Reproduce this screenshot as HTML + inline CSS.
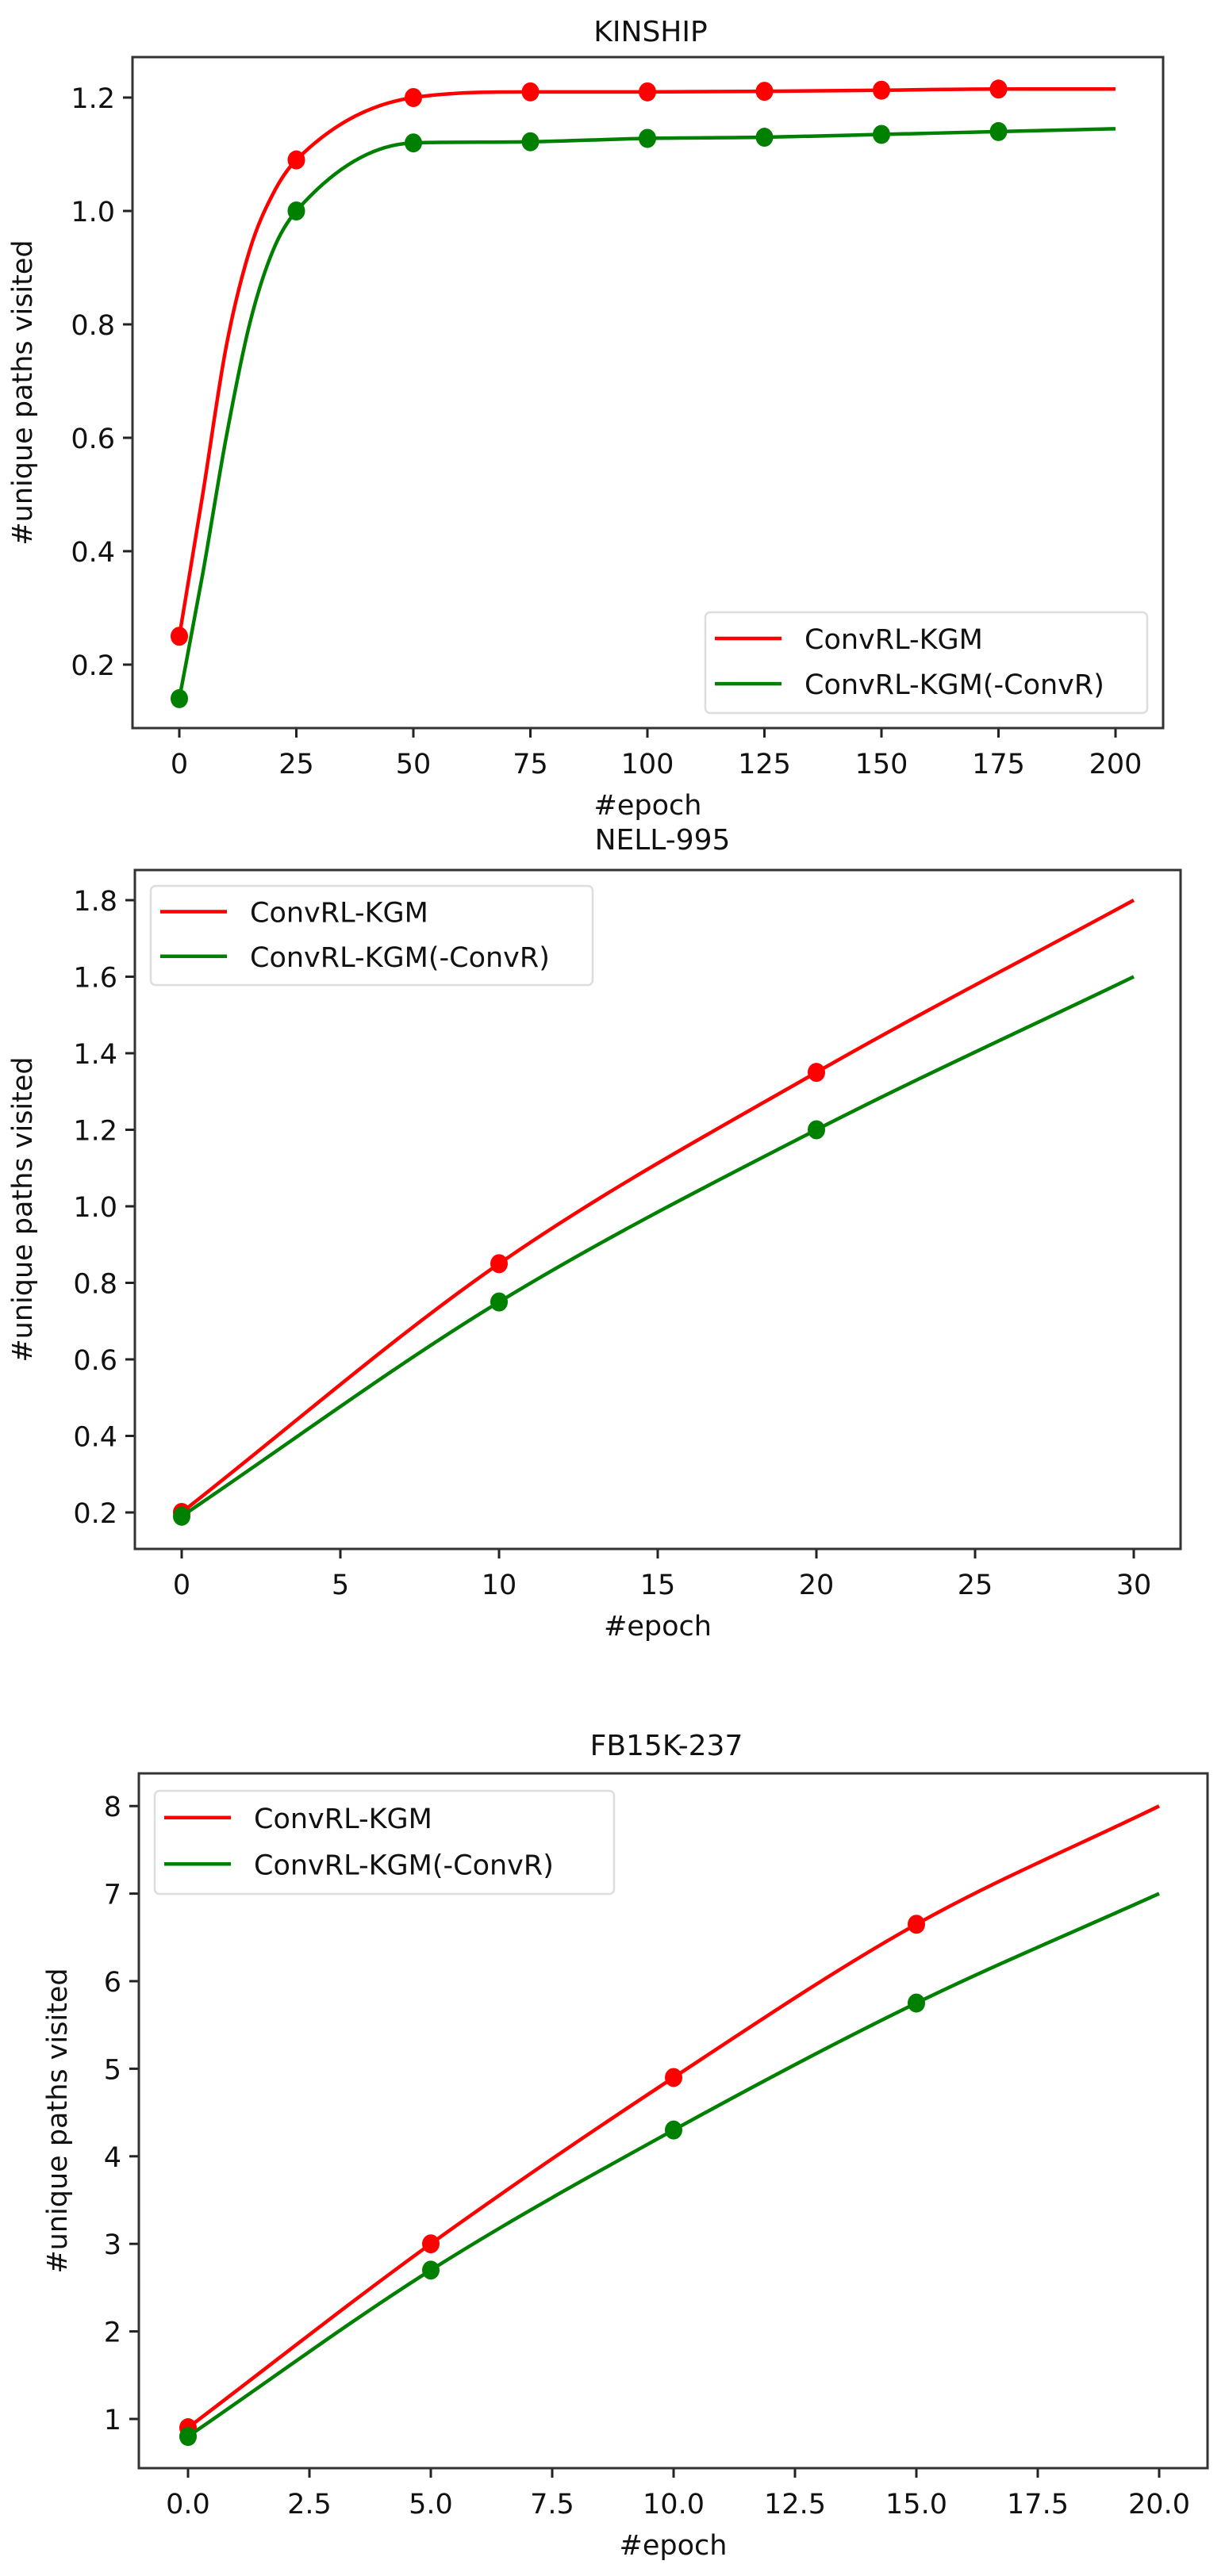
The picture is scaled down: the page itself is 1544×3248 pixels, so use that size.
<!DOCTYPE html>
<html><head><meta charset="utf-8">
<style>
html,body{margin:0;padding:0;background:#fff;}
svg{display:block;}
text{font-family:"DejaVu Sans","Liberation Sans",sans-serif;fill:#111;}
</style></head>
<body>
<svg id="s" width="1544" height="3248" viewBox="0 0 1544 3248" xmlns="http://www.w3.org/2000/svg">
<rect width="1544" height="3248" fill="#fff"/>
<g id="g"></g>
</svg>
<script>
(function(){
var NS="http://www.w3.org/2000/svg",G=document.getElementById('g');
function el(t,a,txt){var e=document.createElementNS(NS,t);for(var k in a)e.setAttribute(k,a[k]);if(txt!=null)e.textContent=txt;G.appendChild(e);return e;}
function mono(xs,ys){var n=xs.length,d=[],m=[];for(var i=0;i<n-1;i++)d.push((ys[i+1]-ys[i])/(xs[i+1]-xs[i]));
m[0]=d[0];m[n-1]=d[n-2];for(i=1;i<n-1;i++){if(d[i-1]*d[i]<=0)m[i]=0;else{var v=(d[i-1]+d[i])/2;var lim=3*Math.min(Math.abs(d[i-1]),Math.abs(d[i]));if(Math.abs(v)>lim)v=(v<0?-lim:lim);m[i]=v;}}
var p="M"+xs[0]+","+ys[0];for(i=0;i<n-1;i++){var h=xs[i+1]-xs[i];p+=" C"+(xs[i]+h/3)+","+(ys[i]+m[i]*h/3)+" "+(xs[i+1]-h/3)+","+(ys[i+1]-m[i+1]*h/3)+" "+xs[i+1]+","+ys[i+1];}return p;}
function chart(c){
 var X=function(v){return c.x0+(v-c.xv0)*c.xs;},Y=function(v){return c.y0-(v-c.yv0)*c.ys;};
 el('text',{x:c.tx,y:c.ty,'font-size':36,'text-anchor':'middle'},c.title);
 c.xt.forEach(function(t){var x=X(t);el('line',{x1:x,y1:c.B,x2:x,y2:c.B+12,stroke:'#222','stroke-width':3});
  el('text',{x:x,y:c.B+57,'font-size':35,'text-anchor':'middle'},c.xf(t));});
 c.yt.forEach(function(t){var y=Y(t);el('line',{x1:c.L-12,y1:y,x2:c.L,y2:y,stroke:'#222','stroke-width':3});
  el('text',{x:c.L-22,y:y+13,'font-size':35,'text-anchor':'end'},c.yf(t));});
 el('text',{x:(c.L+c.R)/2,y:c.B+109,'font-size':35,'text-anchor':'middle'},'#epoch');
 var yc=(c.T+c.B)/2;el('text',{x:c.ylx,y:yc,'font-size':35,'text-anchor':'middle',transform:'rotate(-90 '+c.ylx+' '+yc+')'},'#unique paths visited');
 c.series.forEach(function(s){var xs=s.x.map(X),ys=s.y.map(Y);
  el('path',{d:mono(xs,ys),fill:'none',stroke:s.col,'stroke-width':4.5});
  for(var i=0;i<xs.length;i++)if(s.mk.indexOf(s.x[i])>=0)el('ellipse',{cx:xs[i],cy:ys[i],rx:11,ry:12,fill:s.col});});
 el('rect',{x:c.L,y:c.T,width:c.R-c.L,height:c.B-c.T,fill:'none',stroke:'#333','stroke-width':3});
 var l=c.leg;el('rect',{x:l[0],y:l[1],width:l[2]-l[0],height:l[3]-l[1],rx:6,fill:'#fff','fill-opacity':0.85,stroke:'#ddd','stroke-width':2.5});
 var r1=l[1]+(l[3]-l[1])*0.26,r2=l[1]+(l[3]-l[1])*0.71;
 el('line',{x1:l[0]+12,y1:r1,x2:l[0]+96,y2:r1,stroke:'#ff0000','stroke-width':4.5});
 el('line',{x1:l[0]+12,y1:r2,x2:l[0]+96,y2:r2,stroke:'#008000','stroke-width':4.5});
 el('text',{x:l[0]+125,y:r1+13,'font-size':35},'ConvRL-KGM');
 el('text',{x:l[0]+125,y:r2+13,'font-size':35},'ConvRL-KGM(-ConvR)');
}
chart({title:'KINSHIP',tx:820,ty:52,L:167,R:1466,T:72,B:918,x0:226,xv0:0,xs:5.9,y0:266,yv0:1.0,ys:715,ylx:40,
 xt:[0,25,50,75,100,125,150,175,200],xf:function(t){return ''+t;},
 yt:[0.2,0.4,0.6,0.8,1.0,1.2],yf:function(t){return t.toFixed(1);},leg:[889,772,1446,899],
 series:[{col:'#ff0000',x:[0,5,10,15,20,25,50,75,100,125,150,175,200],y:[0.25,0.5,0.76,0.93,1.03,1.09,1.20,1.21,1.21,1.211,1.213,1.215,1.215],mk:[0,25,50,75,100,125,150,175]},
 {col:'#008000',x:[0,5,10,15,20,25,50,75,100,125,150,175,200],y:[0.14,0.36,0.6,0.8,0.93,1.0,1.12,1.122,1.128,1.13,1.135,1.14,1.145],mk:[0,25,50,75,100,125,150,175]}]});
chart({title:'NELL-995',tx:835,ty:1071,L:170,R:1488,T:1097,B:1953,x0:229,xv0:0,xs:40,y0:1907,yv0:0.2,ys:482.5,ylx:40,
 xt:[0,5,10,15,20,25,30],xf:function(t){return ''+t;},
 yt:[0.2,0.4,0.6,0.8,1.0,1.2,1.4,1.6,1.8],yf:function(t){return t.toFixed(1);},leg:[190,1117,747,1242],
 series:[{col:'#ff0000',x:[0,10,20,30],y:[0.2,0.85,1.35,1.8],mk:[0,10,20]},
 {col:'#008000',x:[0,10,20,30],y:[0.19,0.75,1.2,1.6],mk:[0,10,20]}]});
chart({title:'FB15K-237',tx:840,ty:2213,L:175,R:1522,T:2236,B:3112,x0:237,xv0:0,xs:61.2,y0:3050,yv0:1,ys:110.4,ylx:84,
 xt:[0,2.5,5,7.5,10,12.5,15,17.5,20],xf:function(t){return t.toFixed(1);},
 yt:[1,2,3,4,5,6,7,8],yf:function(t){return ''+t;},leg:[195,2258,774,2388],
 series:[{col:'#ff0000',x:[0,5,10,15,20],y:[0.9,3.0,4.9,6.65,8.0],mk:[0,5,10,15]},
 {col:'#008000',x:[0,5,10,15,20],y:[0.8,2.7,4.3,5.75,7.0],mk:[0,5,10,15]}]});
})();
</script>
</body></html>
